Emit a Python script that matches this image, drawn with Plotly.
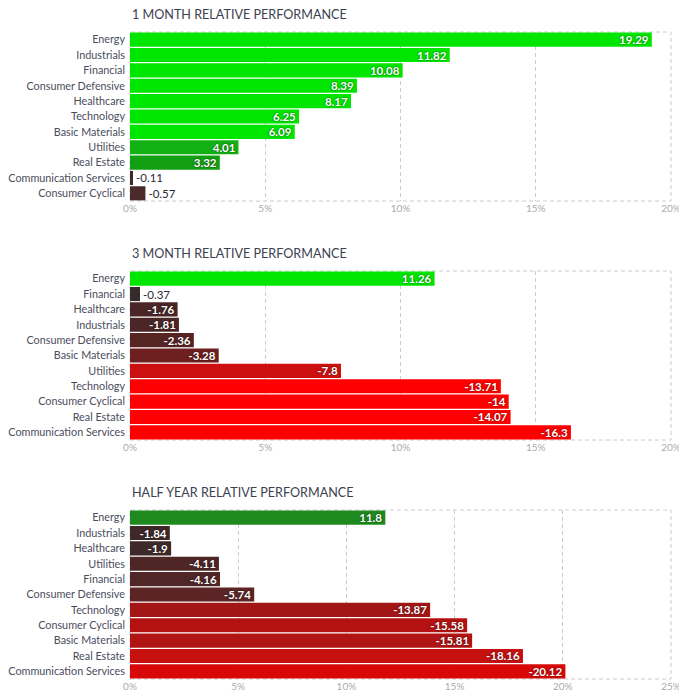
import plotly.graph_objects as go
from plotly.subplots import make_subplots

# ---- data ----
titles = ["1 MONTH RELATIVE PERFORMANCE", "3 MONTH RELATIVE PERFORMANCE", "HALF YEAR RELATIVE PERFORMANCE"]

m1_sectors = ["Energy", "Industrials", "Financial", "Consumer Defensive", "Healthcare", "Technology",
              "Basic Materials", "Utilities", "Real Estate", "Communication Services", "Consumer Cyclical"]
m1_values = [19.29, 11.82, 10.08, 8.39, 8.17, 6.25, 6.09, 4.01, 3.32, -0.11, -0.57]

m3_sectors = ["Energy", "Financial", "Healthcare", "Industrials", "Consumer Defensive", "Basic Materials",
              "Utilities", "Technology", "Consumer Cyclical", "Real Estate", "Communication Services"]
m3_values = [11.26, -0.37, -1.76, -1.81, -2.36, -3.28, -7.8, -13.71, -14, -14.07, -16.3]

hy_sectors = ["Energy", "Industrials", "Healthcare", "Utilities", "Financial", "Consumer Defensive",
              "Technology", "Consumer Cyclical", "Basic Materials", "Real Estate", "Communication Services"]
hy_values = [11.8, -1.84, -1.9, -4.11, -4.16, -5.74, -13.87, -15.58, -15.81, -18.16, -20.12]

x_max = [20, 20, 25]

# ---- styles ----
m1_colors = ["#00e600"] * 7 + ["#13b013", "#12a012", "#3a2c2c", "#4a2a2a"]
m3_colors = ["#00e600", "#352b2b", "#4b2626", "#4c2626", "#572424", "#6e1f1f", "#cc1010",
             "#ff0000", "#ff0000", "#ff0000", "#ff0000"]
hy_colors = ["#1e8a1e", "#3e2828", "#3f2828", "#4f2626", "#502626", "#5c2424", "#a31616",
             "#b41212", "#b11414", "#c71010", "#d80808"]

panels = [(m1_sectors, m1_values, m1_colors), (m3_sectors, m3_values, m3_colors),
          (hy_sectors, hy_values, hy_colors)]

FONT = "Lato"
W, H = 687, 698
ML, MR, MT, MB = 122, 24, 24, 26
PH_TOTAL = H - MT - MB
ph, gap = 169, 70
DASH = "4px,3px"

fig = make_subplots(rows=3, cols=1)

for i, (sectors, values, colors) in enumerate(panels):
    r = i + 1
    lengths = [abs(v) for v in values]
    texts = [str(v) for v in values]
    positions = ["inside" if abs(v) >= 1 else "outside" for v in values]
    fig.add_trace(go.Bar(
        y=sectors, x=lengths, orientation="h",
        marker=dict(color=colors, line=dict(width=0)),
        text=texts, textposition=positions,
        insidetextanchor="end", constraintext="none", cliponaxis=False,
        insidetextfont=dict(family=FONT, size=11.5, color="white", weight="bold",
                            shadow="0px 0px 2px rgba(0,0,0,0.7)"),
        outsidetextfont=dict(family=FONT, size=11.5, color="#2a2a3a"),
        hoverinfo="skip", showlegend=False,
    ), row=r, col=1)

    y1 = 1 - i * (ph + gap) / PH_TOTAL
    y0 = y1 - ph / PH_TOTAL
    xa = "xaxis" if r == 1 else f"xaxis{r}"
    ya = "yaxis" if r == 1 else f"yaxis{r}"
    fig.layout[xa].update(domain=[0, 1], range=[0, x_max[i]], dtick=5, ticksuffix="%",
                          showgrid=True, gridcolor="#cccccc", griddash=DASH, gridwidth=1,
                          zeroline=False, showline=False, ticks="", automargin=False,
                          tickfont=dict(family=FONT, size=10, color="#aaaaaa"), fixedrange=True)
    fig.layout[ya].update(domain=[max(y0, 0), y1], autorange="reversed", showgrid=False,
                          zeroline=False, showline=False, ticks="", ticklabelstandoff=4,
                          automargin=False,
                          tickfont=dict(family=FONT, size=10.8, color="#4a4d5c"))
    xref = "x domain" if r == 1 else f"x{r} domain"
    yref = "y domain" if r == 1 else f"y{r} domain"
    fig.add_shape(type="rect", xref=xref, yref=yref, x0=0, x1=1, y0=0, y1=1,
                  line=dict(color="#cccccc", width=1, dash=DASH), layer="below")
    fig.add_annotation(text=titles[i], xref="paper", yref="paper", x=0, y=y1,
                       xanchor="left", yanchor="bottom", yshift=8, xshift=0, showarrow=False,
                       font=dict(family=FONT, size=12.6, color="#3c4150"))

fig.update_layout(width=W, height=H, margin=dict(l=ML, r=MR, t=MT, b=MB),
                  bargap=0.08, plot_bgcolor="white", paper_bgcolor="white",
                  font=dict(family=FONT))

fig.write_html("out.html")
